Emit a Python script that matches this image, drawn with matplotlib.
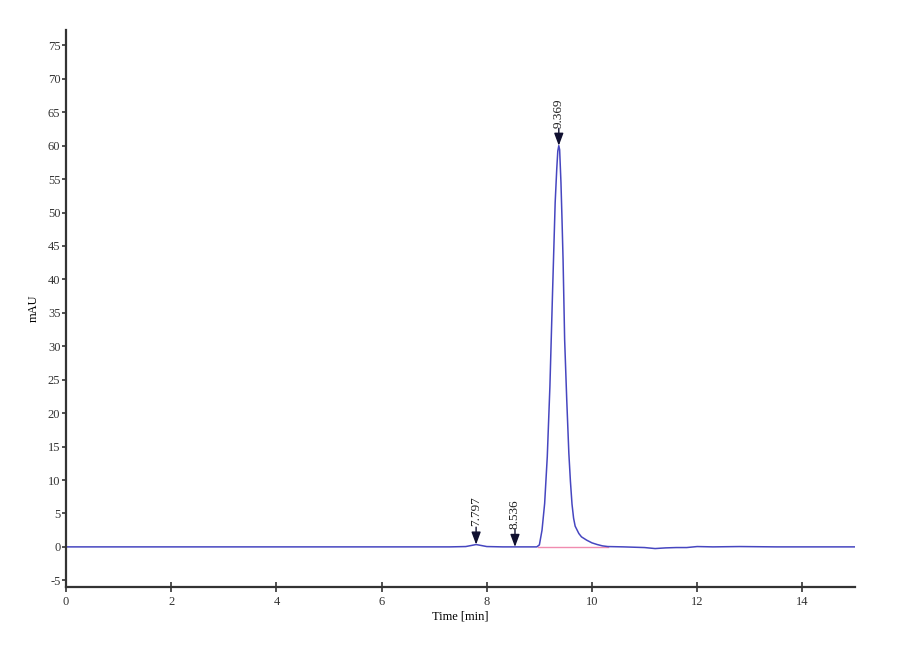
import matplotlib.pyplot as plt

# chromatogram trace (time in min, signal in mAU)
times = [0.0, 2.0, 4.0, 6.0, 7.3, 7.6, 7.7, 7.797, 7.9, 8.0, 8.3, 8.536, 8.8,
         8.95, 9.00, 9.05, 9.10, 9.15, 9.20, 9.25, 9.30, 9.33, 9.35, 9.369,
         9.385, 9.41, 9.43, 9.45, 9.48, 9.52, 9.56, 9.59, 9.62, 9.65, 9.68,
         9.75, 9.80, 9.90, 10.0, 10.1, 10.2, 10.3, 10.6, 11.0, 11.2, 11.4,
         11.6, 11.8, 12.0, 12.3, 12.8, 13.5, 15.0]
signal = [0.0, 0.0, 0.0, 0.0, 0.0, 0.05, 0.2, 0.35, 0.2, 0.05, 0.0, 0.0, 0.0,
          0.0, 0.3, 2.5, 6.5, 13.5, 24.0, 38.0, 51.5, 56.5, 59.2, 60.0,
          59.4, 54.5, 49.0, 43.0, 31.0, 22.0, 14.0, 9.8, 6.4, 4.3, 3.1,
          2.0, 1.5, 1.0, 0.6, 0.35, 0.15, 0.05, 0.0, -0.1, -0.25, -0.15,
          -0.1, -0.1, 0.05, 0.0, 0.05, 0.0, 0.0]

# integrated peaks
peak_times = [7.797, 8.536, 9.369]
peak_heights = [0.35, 0.0, 60.0]
peak_labels = ['7.797', '8.536', '9.369']

# baseline drawn under the main peak
base_start, base_end = 8.98, 10.3

plt.rcParams['font.family'] = ['Liberation Serif', 'DejaVu Serif']
plt.rcParams['axes.unicode_minus'] = False

fig = plt.figure(figsize=(9, 6.6), dpi=100)
ax = fig.add_axes([0.0733, 0.1106, 0.8767, 0.8439])

ax.plot([base_start, base_end], [0, 0], color='#f08cb0', lw=1.0, zorder=1)
ax.plot(times, signal, color='#4646c0', lw=1.1, zorder=2)

for t, h, lab in zip(peak_times, peak_heights, peak_labels):
    ax.annotate('', xy=(t, h), xytext=(0, 12.5), textcoords='offset points',
                arrowprops=dict(arrowstyle='-|>,head_length=0.75,head_width=0.28',
                                color='#101030', lw=1.0, shrinkA=0, shrinkB=0),
                zorder=3)
    ax.annotate(lab, xy=(t, h), xytext=(0, 13), textcoords='offset points',
                rotation=90, ha='center', va='bottom', fontsize=9.5,
                color='#202020')

ax.set_xlim(0, 15)
ax.set_ylim(-6, 77.3)
ax.set_xticks(range(0, 15, 2))
ax.set_yticks(range(-5, 80, 5))

for side in ['top', 'right']:
    ax.spines[side].set_visible(False)
for side in ['left', 'bottom']:
    ax.spines[side].set_color('#333333')
    ax.spines[side].set_linewidth(1.6)

ax.tick_params(axis='y', direction='out', length=3, width=1.2, pad=1,
               labelsize=9, colors='#333333')
ax.tick_params(axis='x', direction='inout', length=7, width=1.2, pad=3,
               labelsize=9, colors='#333333')

ax.set_xlabel('Time [min]', fontsize=9, labelpad=2)
ax.set_ylabel('mAU', fontsize=9, labelpad=6)

fig.savefig('out.png', dpi=100)
